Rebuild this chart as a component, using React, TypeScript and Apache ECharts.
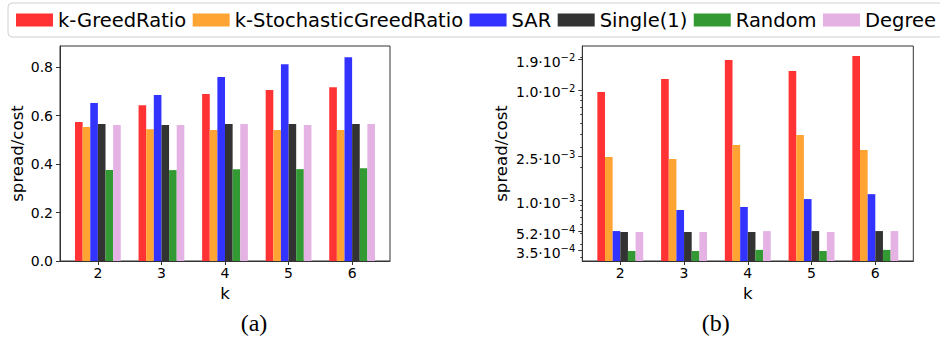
import React, { useEffect, useRef } from 'react';
import * as echarts from 'echarts';

// ---------- data ----------
const kValues = [2, 3, 4, 5, 6];
const seriesNames = ['k-GreedRatio', 'k-StochasticGreedRatio', 'SAR', 'Single(1)', 'Random', 'Degree'];
const seriesColors = ['#ff3333', '#ffa333', '#3333ff', '#333333', '#339933', '#e4b3e4'];

// panel (a): spread/cost, linear
const aGreed = [0.573, 0.643, 0.689, 0.705, 0.717];
const aStoch = [0.553, 0.544, 0.540, 0.540, 0.540];
const aSAR = [0.652, 0.685, 0.759, 0.812, 0.841];
const aSingle = [0.565, 0.561, 0.565, 0.565, 0.565];
const aRandom = [0.375, 0.375, 0.379, 0.379, 0.383];
const aDegree = [0.561, 0.561, 0.565, 0.561, 0.565];

// panel (b): spread/cost, log scale
const bGreed = [9.6e-3, 1.26e-2, 1.87e-2, 1.49e-2, 2.04e-2];
const bStoch = [2.46e-3, 2.36e-3, 3.16e-3, 3.9e-3, 2.85e-3];
const bSAR = [5.22e-4, 8.11e-4, 8.64e-4, 1.02e-3, 1.13e-3];
const bSingle = [5.12e-4, 5.12e-4, 5.12e-4, 5.22e-4, 5.22e-4];
const bRandom = [3.44e-4, 3.44e-4, 3.52e-4, 3.44e-4, 3.52e-4];
const bDegree = [5.12e-4, 5.12e-4, 5.22e-4, 5.12e-4, 5.22e-4];

// ticks
const linTicks = [0, 0.2, 0.4, 0.6, 0.8];
const logTickValues = [3.5e-4, 5.2e-4, 1.0e-3, 2.5e-3, 1.0e-2, 1.9e-2];
const logTickMantissas = ['3.5', '5.2', '1.0', '2.5', '1.0', '1.9'];
const logTickExponents = ['\u22124', '\u22124', '\u22123', '\u22123', '\u22122', '\u22122'];
const logMinorTicks = [3e-4, 4e-4, 5e-4, 6e-4, 7e-4, 8e-4, 9e-4, 2e-3, 3e-3, 4e-3, 5e-3, 6e-3, 7e-3, 8e-3, 9e-3, 2e-2];

const aData = [aGreed, aStoch, aSAR, aSingle, aRandom, aDegree];
const bData = [bGreed, bStoch, bSAR, bSingle, bRandom, bDegree];

const FONT = 'DejaVu Sans';
const AXIS = '#333333';

export default function App() {
  const ref = useRef<HTMLDivElement>(null);

  useEffect(() => {
    if (!ref.current) return;
    const chart = echarts.init(ref.current, undefined, { renderer: 'svg' });

    const xMin = 1.404;
    const xMax = 6.596;
    const yLogMin = 2.79e-4;
    const yLogMax = 2.51e-2;

    const makeX = (gridIndex: number) => ({
      type: 'value',
      gridIndex,
      min: xMin,
      max: xMax,
      name: 'k',
      nameLocation: 'middle',
      nameGap: 24,
      nameTextStyle: { fontFamily: FONT, fontSize: 16.6, color: '#000' },
      axisLine: { show: true, onZero: false, lineStyle: { color: AXIS, width: 1 } },
      axisTick: { show: true, inside: false, length: 4, lineStyle: { color: AXIS, width: 1 }, customValues: kValues },
      axisLabel: {
        customValues: kValues,
        margin: 5,
        fontFamily: FONT,
        fontSize: 14,
        color: '#000',
        formatter: (v: number) => String(Math.round(v)),
      },
      splitLine: { show: false },
    });

    const logFormatter = (v: number) => {
      let best = 0;
      let bd = Infinity;
      logTickValues.forEach((t, i) => {
        const d = Math.abs(Math.log10(v) - Math.log10(t));
        if (d < bd) { bd = d; best = i; }
      });
      return `{b|${logTickMantissas[best]}\u00b710}{s|${logTickExponents[best]}}`;
    };

    const series: any[] = [];
    seriesNames.forEach((name, i) => {
      series.push({
        type: 'bar',
        name,
        xAxisIndex: 0,
        yAxisIndex: 0,
        barWidth: '12%',
        barGap: '0%',
        itemStyle: { color: seriesColors[i] },
        data: kValues.map((k, j) => [k, aData[i][j]]),
      });
    });
    seriesNames.forEach((name, i) => {
      series.push({
        type: 'bar',
        name,
        xAxisIndex: 1,
        yAxisIndex: 1,
        barWidth: '12%',
        barGap: '0%',
        itemStyle: { color: seriesColors[i] },
        data: kValues.map((k, j) => [k, bData[i][j]]),
      });
    });

    const option: any = {
      animation: false,
      backgroundColor: '#ffffff',
      legend: {
        data: seriesNames,
        left: 8,
        top: 3,
        width: 930,
        padding: [7, 8, 7, 8],
        itemWidth: 37,
        itemHeight: 13,
        itemGap: 6.5,
        icon: 'rect',
        borderColor: '#d0d0d0',
        borderWidth: 1,
        borderRadius: 4,
        selectedMode: false,
        textStyle: { fontFamily: FONT, fontSize: 19.5, color: '#000' },
      },
      grid: [
        { left: 60, top: 46, width: 330, height: 215, show: true, borderColor: AXIS, borderWidth: 1, backgroundColor: 'transparent' },
        { left: 582.3, top: 46, width: 331, height: 215, show: true, borderColor: AXIS, borderWidth: 1, backgroundColor: 'transparent' },
      ],
      xAxis: [makeX(0), makeX(1)],
      yAxis: [
        {
          type: 'value',
          gridIndex: 0,
          min: 0,
          max: 0.887,
          name: 'spread/cost',
          nameLocation: 'middle',
          nameGap: 34,
          nameRotate: 90,
          nameTextStyle: { fontFamily: FONT, fontSize: 16.6, color: '#000' },
          axisLine: { show: true, lineStyle: { color: AXIS, width: 1 } },
          axisTick: { show: true, inside: false, length: 4, lineStyle: { color: AXIS, width: 1 }, customValues: linTicks },
          axisLabel: {
            customValues: linTicks,
            margin: 7,
            fontFamily: FONT,
            fontSize: 14,
            color: '#000',
            formatter: (v: number) => v.toFixed(1),
          },
          splitLine: { show: false },
        },
        {
          type: 'log',
          logBase: 10,
          gridIndex: 1,
          min: yLogMin,
          max: yLogMax,
          startValue: yLogMin,
          name: 'spread/cost',
          nameLocation: 'middle',
          nameGap: 72,
          nameRotate: 90,
          nameTextStyle: { fontFamily: FONT, fontSize: 16.6, color: '#000' },
          axisLine: { show: true, lineStyle: { color: AXIS, width: 1 } },
          axisTick: { show: true, inside: false, length: 4, lineStyle: { color: AXIS, width: 1 }, customValues: logTickValues },
          axisLabel: {
            customValues: logTickValues,
            margin: 7,
            color: '#000',
            padding: [5, 0, 0, 0],
            formatter: logFormatter,
            rich: {
              b: { fontFamily: FONT, fontSize: 14, lineHeight: 18, color: '#000' },
              s: { fontFamily: FONT, fontSize: 10, lineHeight: 10, verticalAlign: 'top', color: '#000' },
            },
          },
          splitLine: { show: false },
        },
        {
          type: 'log',
          logBase: 10,
          gridIndex: 1,
          min: yLogMin,
          max: yLogMax,
          position: 'left',
          axisLine: { show: false },
          axisLabel: { show: false },
          axisTick: { show: true, inside: false, length: 2, lineStyle: { color: AXIS, width: 1 }, customValues: logMinorTicks },
          splitLine: { show: false },
        },
      ],
      series,
      graphic: [
        {
          type: 'text',
          x: 254,
          y: 323,
          style: { text: '(a)', fontFamily: 'Liberation Serif', fontSize: 24, fill: '#000', align: 'center', verticalAlign: 'middle' },
        },
        {
          type: 'text',
          x: 715.7,
          y: 323,
          style: { text: '(b)', fontFamily: 'Liberation Serif', fontSize: 24, fill: '#000', align: 'center', verticalAlign: 'middle' },
        },
      ],
    };

    chart.setOption(option);
    return () => chart.dispose();
  }, []);

  return (
    <div
      ref={ref}
      style={{ position: 'absolute', left: 0, top: 0, width: 940, height: 339 }}
    />
  );
}
